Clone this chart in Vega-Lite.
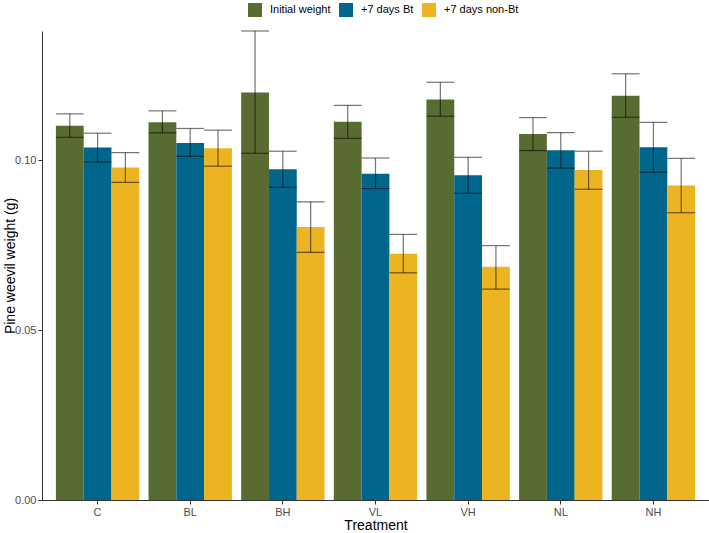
{
  "$schema": "https://vega.github.io/schema/vega-lite/v6.json",
  "autosize": "none",
  "padding": {"left": 42, "top": 31, "right": 0, "bottom": 33},
  "width": 667,
  "height": 469,
  "config": {
    "font": "Liberation Sans",
    "view": {"stroke": null},
    "axis": {
      "grid": false,
      "domainColor": "#333333",
      "domainWidth": 1,
      "tickColor": "#333333",
      "tickSize": 4,
      "labelColor": "#4D4D4D",
      "labelFontSize": 11,
      "labelPadding": 2,
      "titleFontSize": 14,
      "titleFontWeight": "normal",
      "titleColor": "#000000"
    }
  },
  "data": {
    "values": [
      {"treatment": "C", "group": "Initial weight", "mean": 0.1102, "lo": 0.1068, "hi": 0.1137},
      {"treatment": "C", "group": "+7 days Bt", "mean": 0.1038, "lo": 0.0995, "hi": 0.1080},
      {"treatment": "C", "group": "+7 days non-Bt", "mean": 0.0979, "lo": 0.0935, "hi": 0.1023},
      {"treatment": "BL", "group": "Initial weight", "mean": 0.1112, "lo": 0.1081, "hi": 0.1146},
      {"treatment": "BL", "group": "+7 days Bt", "mean": 0.1051, "lo": 0.1012, "hi": 0.1094},
      {"treatment": "BL", "group": "+7 days non-Bt", "mean": 0.1036, "lo": 0.0983, "hi": 0.1089},
      {"treatment": "BH", "group": "Initial weight", "mean": 0.1200, "lo": 0.1021, "hi": 0.1381},
      {"treatment": "BH", "group": "+7 days Bt", "mean": 0.0974, "lo": 0.0921, "hi": 0.1027},
      {"treatment": "BH", "group": "+7 days non-Bt", "mean": 0.0804, "lo": 0.0729, "hi": 0.0878},
      {"treatment": "VL", "group": "Initial weight", "mean": 0.1114, "lo": 0.1065, "hi": 0.1162},
      {"treatment": "VL", "group": "+7 days Bt", "mean": 0.0961, "lo": 0.0917, "hi": 0.1007},
      {"treatment": "VL", "group": "+7 days non-Bt", "mean": 0.0725, "lo": 0.0669, "hi": 0.0782},
      {"treatment": "VH", "group": "Initial weight", "mean": 0.1179, "lo": 0.1130, "hi": 0.1230},
      {"treatment": "VH", "group": "+7 days Bt", "mean": 0.0956, "lo": 0.0903, "hi": 0.1009},
      {"treatment": "VH", "group": "+7 days non-Bt", "mean": 0.0687, "lo": 0.0621, "hi": 0.0749},
      {"treatment": "NL", "group": "Initial weight", "mean": 0.1078, "lo": 0.1029, "hi": 0.1126},
      {"treatment": "NL", "group": "+7 days Bt", "mean": 0.1030, "lo": 0.0977, "hi": 0.1082},
      {"treatment": "NL", "group": "+7 days non-Bt", "mean": 0.0972, "lo": 0.0915, "hi": 0.1027},
      {"treatment": "NH", "group": "Initial weight", "mean": 0.1190, "lo": 0.1127, "hi": 0.1255},
      {"treatment": "NH", "group": "+7 days Bt", "mean": 0.1039, "lo": 0.0965, "hi": 0.1112},
      {"treatment": "NH", "group": "+7 days non-Bt", "mean": 0.0926, "lo": 0.0846, "hi": 0.1006}
    ]
  },
  "encoding": {
    "x": {
      "field": "treatment",
      "type": "nominal",
      "sort": ["C", "BL", "BH", "VL", "VH", "NL", "NH"],
      "scale": {"paddingInner": 0.1, "paddingOuter": 0.15},
      "axis": {"labelAngle": 0, "titlePadding": 1},
      "title": "Treatment"
    },
    "xOffset": {
      "field": "group",
      "type": "nominal",
      "sort": ["Initial weight", "+7 days Bt", "+7 days non-Bt"],
      "scale": {"paddingInner": 0, "paddingOuter": 0}
    }
  },
  "layer": [
    {
      "mark": {"type": "bar"},
      "encoding": {
        "y": {
          "field": "mean",
          "type": "quantitative",
          "title": "Pine weevil weight (g)",
          "scale": {"domain": [0, 0.1381], "nice": false, "zero": true},
          "axis": {"values": [0, 0.05, 0.1], "format": ".2f", "titleX": -28, "titleBaseline": "alphabetic"}
        },
        "color": {
          "field": "group",
          "type": "nominal",
          "sort": ["Initial weight", "+7 days Bt", "+7 days non-Bt"],
          "scale": {
            "domain": ["Initial weight", "+7 days Bt", "+7 days non-Bt"],
            "range": ["#586C31", "#00668B", "#EDB421"]
          },
          "legend": {
            "title": null,
            "orient": "none",
            "direction": "horizontal",
            "legendX": 206,
            "legendY": -28,
            "symbolType": "square",
            "symbolSize": 196,
            "symbolStrokeWidth": 0,
            "symbolOpacity": 1,
            "labelFontSize": 11,
            "labelColor": "#000000",
            "labelOffset": 8,
            "columnPadding": 8
          }
        }
      }
    },
    {
      "mark": {"type": "rule", "color": "#000000", "opacity": 0.55, "strokeWidth": 1.2},
      "encoding": {
        "y": {"field": "lo", "type": "quantitative", "title": "Pine weevil weight (g)"},
        "y2": {"field": "hi"}
      }
    },
    {
      "mark": {"type": "tick", "orient": "horizontal", "size": 27.8, "thickness": 1.2, "color": "#000000", "opacity": 0.55},
      "encoding": {
        "y": {"field": "hi", "type": "quantitative", "title": "Pine weevil weight (g)"}
      }
    },
    {
      "mark": {"type": "tick", "orient": "horizontal", "size": 27.8, "thickness": 1.2, "color": "#000000", "opacity": 0.55},
      "encoding": {
        "y": {"field": "lo", "type": "quantitative", "title": "Pine weevil weight (g)"}
      }
    }
  ]
}
